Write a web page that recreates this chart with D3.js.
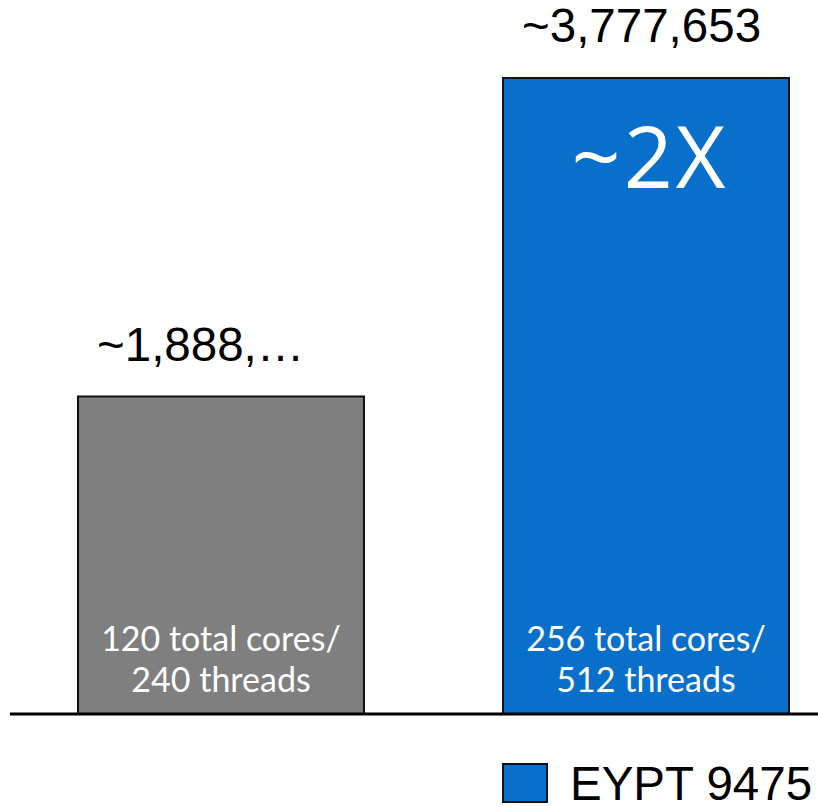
<!DOCTYPE html>
<html>
<head>
<meta charset="utf-8">
<script src="https://cdn.jsdelivr.net/npm/d3@7"></script>
<style>
  html, body { margin: 0; padding: 0; background: #fff; }
  svg { display: block; }
</style>
</head>
<body>
<svg id="chart" width="818" height="806"></svg>
<script>
const categories = ["Competitor", "EYPT 9475"];
const values = [1888826, 3777653];
const valueLabels = ["~1,888,\u2026", "~3,777,653"];
const innerLine1 = ["120 total cores/", "256 total cores/"];
const innerLine2 = ["240 threads", "512 threads"];
const barColors = ["#7f7f7f", "#0870cb"];
const legendLabels = ["EYPT 9475"];
const legendColors = ["#0870cb"];
const multiplierLabel = "~2X";

(function () {
const svg = d3.select("#chart");
const baseY = 714;

const x = d3.scaleBand()
  .domain(categories)
  .range([77, 790])
  .paddingInner(0.3224)
  .paddingOuter(0);

const y = d3.scaleLinear()
  .domain([0, 3777653])
  .range([baseY, 77]);

const color = d3.scaleOrdinal().domain(categories).range(barColors);

const data = categories.map((c, i) => ({
  cat: c, value: values[i], label: valueLabels[i],
  l1: innerLine1[i], l2: innerLine2[i]
}));

svg.append("g").selectAll("rect")
  .data(data).join("rect")
  .attr("x", d => x(d.cat) + 1)
  .attr("y", d => y(d.value) + 1)
  .attr("width", x.bandwidth() - 2)
  .attr("height", d => baseY - y(d.value) - 1)
  .attr("fill", d => color(d.cat))
  .attr("stroke", "#111")
  .attr("stroke-width", 2);

svg.append("line")
  .attr("x1", 10).attr("x2", 818)
  .attr("y1", baseY).attr("y2", baseY)
  .attr("stroke", "#000").attr("stroke-width", 3);

svg.append("g").selectAll("text")
  .data(data).join("text")
  .attr("x", d => x(d.cat) + 20)
  .attr("y", d => y(d.value) - 35)
  .attr("font-family", "'Liberation Sans', Arial, sans-serif")
  .attr("font-size", 47.5)
  .attr("fill", "#000")
  .text(d => d.label);

const inner = svg.append("g").selectAll("g")
  .data(data).join("g");
inner.append("text")
  .attr("x", d => x(d.cat) + x.bandwidth() / 2)
  .attr("y", 651)
  .attr("text-anchor", "middle")
  .attr("font-family", "Lato, 'Open Sans', sans-serif")
  .attr("font-size", 34)
  .attr("fill", "#fff")
  .text(d => d.l1);
inner.append("text")
  .attr("x", d => x(d.cat) + x.bandwidth() / 2)
  .attr("y", 692)
  .attr("text-anchor", "middle")
  .attr("font-family", "Lato, 'Open Sans', sans-serif")
  .attr("font-size", 34)
  .attr("fill", "#fff")
  .text(d => d.l2);

const tallest = data[1];
svg.append("text")
  .attr("x", x(tallest.cat) + x.bandwidth() / 2 + 4)
  .attr("y", y(tallest.value) + 111)
  .attr("text-anchor", "middle")
  .attr("font-family", "'Open Sans', sans-serif")
  .attr("font-weight", 400)
  .attr("font-size", 86)
  .attr("letter-spacing", 3)
  .attr("fill", "#fff")
  .text(multiplierLabel);

const lg = svg.append("g").attr("transform", "translate(502,763)");
lg.selectAll("rect").data(legendLabels).join("rect")
  .attr("x", 1).attr("y", 1)
  .attr("width", 44).attr("height", 38)
  .attr("fill", (d, i) => legendColors[i])
  .attr("stroke", "#111").attr("stroke-width", 2);
lg.selectAll("text").data(legendLabels).join("text")
  .attr("x", 68).attr("y", 37)
  .attr("font-family", "'Liberation Sans', Arial, sans-serif")
  .attr("font-size", 47.5)
  .attr("fill", "#000")
  .text(d => d);
})();
</script>
</body>
</html>
